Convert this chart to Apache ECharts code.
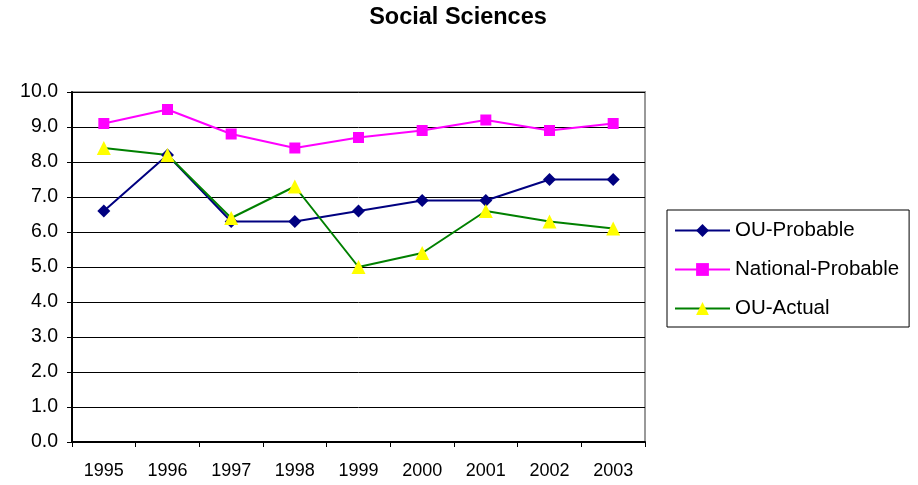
<!DOCTYPE html>
<html>
<head>
<meta charset="utf-8">
<script src="https://cdn.jsdelivr.net/npm/echarts@6/dist/echarts.min.js"></script>
<style>html,body{margin:0;padding:0;background:#fff}#c{width:918px;height:485px}</style>
</head>
<body>
<div id="c"></div>
<script>
const years = ['1995','1996','1997','1998','1999','2000','2001','2002','2003'];
const ouProbable = [6.6, 8.2, 6.3, 6.3, 6.6, 6.9, 6.9, 7.5, 7.5];
const nationalProbable = [9.1, 9.5, 8.8, 8.4, 8.7, 8.9, 9.2, 8.9, 9.1];
const ouActual = [8.4, 8.2, 6.4, 7.3, 5.0, 5.4, 6.6, 6.3, 6.1];

const FONT = '"Liberation Sans", Arial, sans-serif';
const chart = echarts.init(document.getElementById('c'), null, {renderer: 'canvas'});
chart.setOption({
  animation: false,
  backgroundColor: '#fff',
  title: {
    text: 'Social Sciences',
    left: 453, top: 1, textAlign: 'center',
    textStyle: {fontFamily: FONT, fontWeight: 'bold', fontSize: 23.5, color: '#000'}
  },
  legend: {
    orient: 'vertical',
    left: 667, top: 210,
    padding: [10, 10, 8, 7],
    itemGap: 18,
    itemWidth: 55, itemHeight: 16,
    itemTextGap: 7,
    borderColor: '#000', borderWidth: 1,
    textStyle: {fontFamily: FONT, fontSize: 20.5, color: '#000', lineHeight: 20},
    data: ['OU-Probable', 'National-Probable', 'OU-Actual']
  },
  grid: {
    left: 72, top: 92, width: 573, height: 350,
    show: true, borderColor: '#999', borderWidth: 2, backgroundColor: 'transparent'
  },
  xAxis: {
    type: 'category', data: years, boundaryGap: true,
    axisLine: {lineStyle: {color: '#000', width: 2}},
    axisTick: {show: true, alignWithLabel: false, length: 5, lineStyle: {color: '#000'}},
    axisLabel: {fontFamily: FONT, fontSize: 18, color: '#000', margin: 20}
  },
  yAxis: {
    type: 'value', min: 0, max: 10, interval: 1,
    axisLine: {show: true, lineStyle: {color: '#000', width: 2}},
    axisTick: {show: true, length: 5, lineStyle: {color: '#000'}},
    axisLabel: {fontFamily: FONT, fontSize: 19.5, color: '#000', margin: 14,
      formatter: v => v.toFixed(1)},
    splitLine: {show: true, lineStyle: {color: '#000', width: 1}}
  },
  series: [
    {
      name: 'OU-Probable', type: 'line', data: ouProbable,
      symbol: 'diamond', symbolSize: 13,
      lineStyle: {color: '#000080', width: 2},
      itemStyle: {color: '#000080'}
    },
    {
      name: 'National-Probable', type: 'line', data: nationalProbable,
      symbol: 'rect', symbolSize: 11,
      lineStyle: {color: '#FF00FF', width: 2},
      itemStyle: {color: '#FF00FF'}
    },
    {
      name: 'OU-Actual', type: 'line', data: ouActual,
      symbol: 'triangle', symbolSize: 14,
      lineStyle: {color: '#008000', width: 2},
      itemStyle: {color: '#FFFF00'}
    }
  ]
});
</script>
</body>
</html>
